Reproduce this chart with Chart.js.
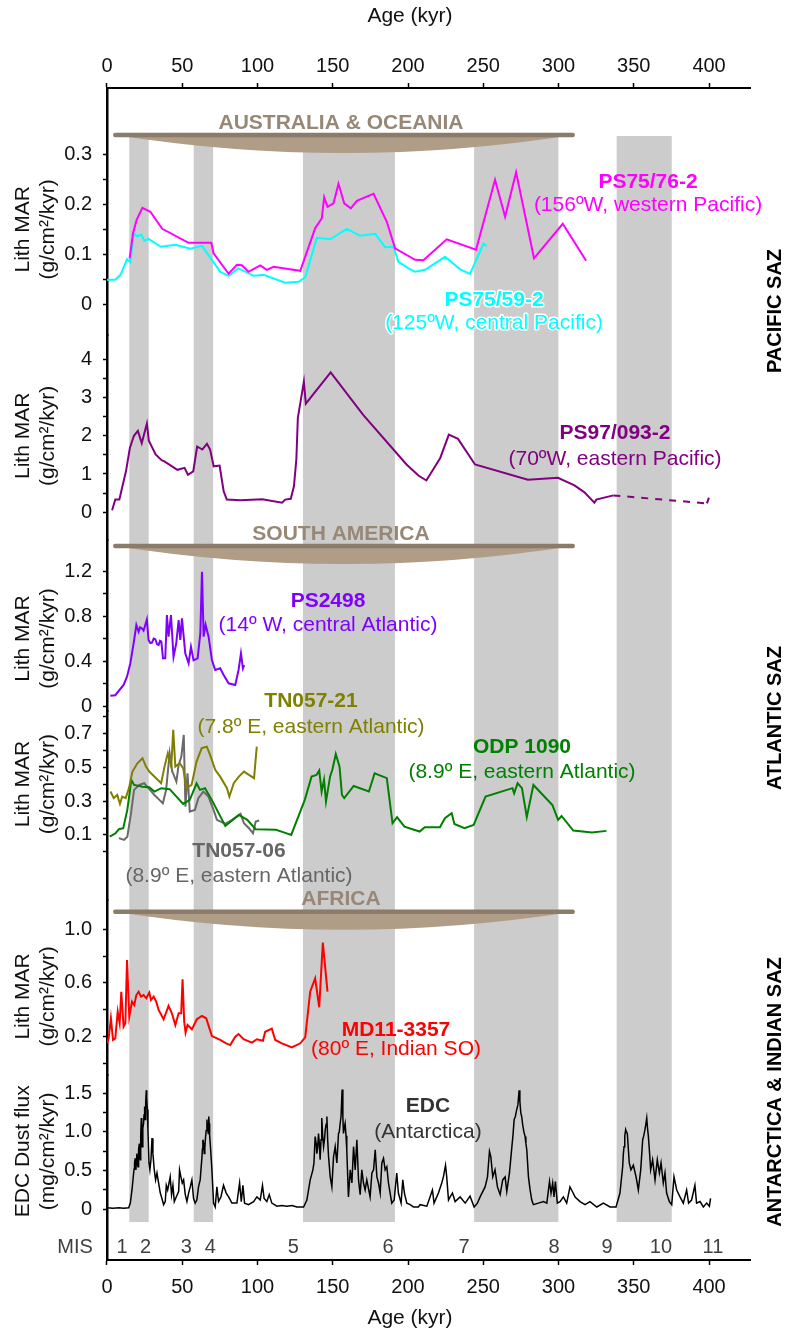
<!DOCTYPE html>
<html>
<head>
<meta charset="utf-8">
<script src="https://cdn.jsdelivr.net/npm/chart.js@4/dist/chart.umd.min.js"></script>
<style>
  html, body { margin: 0; padding: 0; background: #fff; }
  #wrap { width: 788px; height: 1338px; }
</style>
</head>
<body>
<div id="wrap"><canvas id="chart" width="788" height="1338"></canvas></div>
<script>
const FONT = '"Liberation Sans", Arial, sans-serif';

// ---- data: [age (kyr), value] ----
const ps7576 = [[15.0,0.092],[17.3,0.142],[19.7,0.169],[23.5,0.193],[28.8,0.185],[36.7,0.151],[54.2,0.123],[69.3,0.123],[70.8,0.102],[80.8,0.061],[86.3,0.079],[89.6,0.078],[94.0,0.065],[101.8,0.078],[106.2,0.069],[110.6,0.075],[128.4,0.067],[138.3,0.152],[142.7,0.172],[144.3,0.214],[146.5,0.195],[150.5,0.202],[153.8,0.241],[157.6,0.202],[162.0,0.192],[166.0,0.207],[177.1,0.221],[185.9,0.165],[191.4,0.112],[204.7,0.089],[210.2,0.088],[225.7,0.130],[245.2,0.109],[257.8,0.249],[264.5,0.175],[271.8,0.264],[283.7,0.092],[302.8,0.161],[318.3,0.087]];

const ps7559 = [[0,0.049],[5.5,0.049],[9.0,0.059],[13.3,0.090],[15.5,0.084],[17.7,0.142],[20.1,0.136],[22.9,0.139],[24.8,0.127],[27.6,0.131],[35.8,0.115],[45.4,0.119],[55.5,0.111],[63.1,0.117],[69.7,0.089],[75.2,0.065],[80.8,0.057],[87.4,0.072],[97.4,0.057],[104.0,0.059],[118.4,0.043],[127.2,0.045],[131.7,0.054],[139.4,0.133],[148.3,0.130],[159.3,0.151],[168.2,0.137],[178.2,0.141],[184.8,0.114],[190.3,0.115],[193.6,0.085],[200.3,0.072],[204.7,0.065],[211.3,0.069],[224.6,0.095],[234.6,0.070],[241.2,0.061],[250.1,0.121],[252.3,0.117]];

const ps97 = [[3.4,0.05],[5.5,0.33],[8.2,0.33],[12.6,1.07],[15.2,1.68],[17.9,2.0],[20.5,2.13],[23.1,1.81],[26.5,2.32],[27.8,1.87],[32.3,1.51],[36.3,1.36],[38.1,1.33],[46.8,1.11],[51.5,1.16],[53.8,0.98],[57.3,1.07],[59.9,1.72],[63.3,1.64],[66.4,1.79],[68.5,1.64],[70.9,1.20],[74.8,1.22],[77.5,0.55],[79.6,0.33],[88.8,0.31],[103.2,0.34],[116.3,0.25],[118.4,0.33],[122.1,0.35],[124.2,0.68],[125.8,1.38],[126.8,2.47],[130.8,3.42],[132.1,2.84],[148.6,3.66],[170.2,2.55],[199.0,1.25],[206.9,0.96],[212.2,0.83],[221.4,1.42],[227.1,2.03],[233.2,1.92],[244.5,1.25],[279.6,0.85],[299.6,0.90],[310.6,0.70],[317.2,0.52],[323.8,0.25],[325.1,0.33],[336.4,0.44],[398.6,0.23],[399.9,0.38]];

const ps2498 = [[2.2,0.092],[5.5,0.096],[11.0,0.187],[13.3,0.26],[15.5,0.38],[17.7,0.557],[19.5,0.72],[21.0,0.66],[22.0,0.70],[23.2,0.69],[24.3,0.67],[25.4,0.72],[26.5,0.77],[27.6,0.587],[28.8,0.56],[29.9,0.563],[31.0,0.60],[32.1,0.593],[33.2,0.55],[34.3,0.542],[35.2,0.58],[36.1,0.572],[37.2,0.424],[38.7,0.424],[39.8,0.809],[40.9,0.616],[42.5,0.809],[44.2,0.438],[46.0,0.557],[47.6,0.764],[48.7,0.587],[49.8,0.78],[52.0,0.468],[54.2,0.38],[55.8,0.527],[57.5,0.406],[60.2,0.424],[62.0,0.646],[63.1,1.194],[64.2,0.616],[65.5,0.723],[67.5,0.616],[69.7,0.409],[71.9,0.32],[75.2,0.335],[77.5,0.276],[80.8,0.202],[85.2,0.187],[87.4,0.32],[89.0,0.468],[90.3,0.335],[91.2,0.364]];

const tn05721 = [[2.3,0.356],[4.5,0.317],[6.8,0.336],[8.6,0.283],[10.1,0.326],[12.4,0.317],[14.6,0.376],[16.9,0.474],[20.2,0.523],[23.6,0.553],[25.9,0.503],[28.1,0.474],[32.6,0.435],[36.0,0.405],[38.2,0.503],[40.4,0.582],[42.7,0.503],[44.0,0.72],[45.4,0.503],[48.3,0.523],[50.6,0.494],[52.8,0.376],[56.2,0.395],[59.5,0.533],[62.9,0.612],[66.3,0.621],[68.5,0.572],[71.9,0.484],[75.2,0.444],[79.7,0.376],[81.3,0.326],[84.2,0.405],[87.6,0.444],[91.0,0.474],[94.3,0.454],[97.7,0.435],[99.5,0.621]];

const tn05706 = [[7.9,0.081],[11.3,0.071],[13.5,0.09],[15.8,0.218],[18.0,0.366],[21.4,0.395],[24.7,0.405],[28.1,0.37],[31.5,0.336],[34.8,0.307],[37.1,0.287],[39.3,0.366],[41.6,0.582],[43.4,0.474],[46.1,0.415],[47.6,0.513],[49.4,0.562],[51.0,0.69],[52.1,0.267],[53.5,0.464],[55.0,0.238],[58.4,0.248],[60.7,0.317],[64.0,0.356],[67.4,0.326],[70.8,0.248],[73.0,0.189],[78.6,0.165],[83.1,0.189],[88.7,0.224],[91.0,0.169],[94.3,0.14],[97.0,0.11],[98.8,0.179],[101.1,0.185]];

const odp1090 = [[1.8,0.09],[5.7,0.11],[7.9,0.134],[10.8,0.14],[13.5,0.248],[16.2,0.425],[18.0,0.395],[23.6,0.385],[28.1,0.382],[31.5,0.356],[36.0,0.376],[41.6,0.37],[50.6,0.283],[55.0,0.307],[59.5,0.405],[61.8,0.366],[65.1,0.376],[69.6,0.307],[78.6,0.153],[87.6,0.218],[93.2,0.189],[98.8,0.134],[112.3,0.13],[117.9,0.114],[122.4,0.10],[131.4,0.307],[135.9,0.444],[139.2,0.454],[141.0,0.48],[142.6,0.356],[144.2,0.425],[145.5,0.297],[148.2,0.444],[149.8,0.488],[152.0,0.578],[154.5,0.503],[156.1,0.336],[157.6,0.317],[163.9,0.389],[174.0,0.356],[177.8,0.464],[185.9,0.435],[189.7,0.169],[192.7,0.205],[197.6,0.149],[207.7,0.12],[211.1,0.146],[221.2,0.146],[224.5,0.199],[229.0,0.228],[230.8,0.165],[237.5,0.14],[243.6,0.159],[251.5,0.326],[269.4,0.376],[270.5,0.346],[272.8,0.405],[275.7,0.376],[278.9,0.205],[283.3,0.395],[295.9,0.277],[299.7,0.189],[302.0,0.212],[309.8,0.126],[322.2,0.114],[331.8,0.124]];

const md113357 = [[0,0.151],[1.1,0.188],[2.6,0.337],[4.0,0.176],[5.5,0.188],[7.1,0.386],[8.4,0.30],[9.5,0.535],[11.0,0.275],[12.2,0.30],[13.3,0.771],[14.8,0.349],[16.6,0.461],[18.1,0.436],[19.5,0.51],[21.0,0.535],[22.6,0.498],[24.3,0.51],[26.1,0.486],[28.1,0.528],[29.2,0.473],[31.0,0.498],[32.7,0.461],[34.3,0.399],[37.6,0.33],[40.9,0.429],[43.1,0.374],[45.4,0.287],[47.6,0.374],[49.3,0.374],[50.2,0.627],[51.3,0.312],[52.2,0.23],[53.5,0.287],[56.4,0.255],[59.7,0.33],[63.1,0.354],[65.9,0.337],[69.7,0.205],[75.2,0.176],[79.2,0.151],[81.9,0.138],[85.2,0.20],[87.4,0.22],[90.7,0.181],[96.3,0.156],[99.6,0.181],[103.6,0.17],[105.1,0.237],[109.5,0.26],[111.8,0.176],[116.2,0.151],[122.8,0.121],[128.4,0.151],[131.7,0.196],[135.0,0.535],[138.3,0.635],[141.0,0.419],[143.4,0.90],[146.5,0.535]];

const edcDust = [[0,0.02],[4,0.015],[8,0.02],[11,0.015],[14.4,0.02],[15.5,0.08],[16.6,0.25],[17.7,0.47],[18.0,0.52],[18.3,0.6],[18.7,0.66],[19.2,0.51],[19.9,0.72],[20.2,0.6],[20.6,0.55],[21.0,0.78],[21.5,0.85],[21.8,0.7],[22.1,0.64],[22.4,0.95],[22.8,1.18],[23.1,0.9],[23.4,0.81],[23.8,1.05],[24.3,1.11],[24.6,1.22],[25.0,1.33],[25.4,1.16],[25.7,1.38],[26.1,1.54],[26.4,1.45],[26.8,1.29],[27.2,1.03],[27.9,0.6],[28.5,0.51],[29.2,0.64],[29.9,0.92],[30.5,0.72],[31.4,0.51],[32.3,0.38],[33.2,0.47],[34.3,0.34],[35.4,0.21],[36.5,0.14],[37.6,0.06],[38.7,0.1],[39.4,0.31],[40.3,0.25],[41.2,0.34],[42.0,0.42],[42.9,0.19],[43.8,0.31],[44.7,0.1],[46.0,0.16],[47.6,0.23],[48.2,0.51],[49.1,0.42],[50.0,0.34],[50.9,0.38],[52.0,0.19],[53.1,0.1],[54.2,0.21],[55.3,0.29],[56.4,0.38],[57.5,0.14],[58.6,0.08],[59.7,0.12],[60.8,0.29],[61.9,0.38],[63.1,0.68],[63.4,0.78],[63.7,0.9],[64.2,0.85],[64.6,0.72],[65.0,0.8],[65.5,0.94],[65.9,1.02],[66.4,1.16],[66.8,1.05],[67.3,0.98],[67.6,1.2],[67.9,1.11],[68.2,0.95],[68.6,0.85],[69.7,0.51],[70.8,0.08],[71.9,0.03],[73.0,0.29],[74.1,0.1],[75.7,0.16],[77.4,0.31],[79.2,0.21],[80.8,0.16],[83.0,0.08],[86.3,0.08],[88.1,0.34],[89.2,0.1],[90.3,0.31],[91.4,0.08],[94.0,0.06],[97.4,0.1],[99.6,0.16],[101.8,0.12],[103.3,0.31],[104.4,0.14],[106.2,0.1],[107.8,0.19],[109.5,0.08],[112.9,0.04],[116,0.05],[119.5,0.04],[123,0.05],[126.1,0.03],[130.6,0.03],[132.8,0.12],[135.0,0.38],[136.8,0.51],[137.5,0.6],[138.3,0.94],[139.0,0.85],[139.4,0.72],[140.0,0.8],[140.5,0.98],[141.1,0.85],[141.6,0.64],[142.2,0.9],[142.7,1.18],[143.3,0.95],[143.9,0.81],[144.5,0.9],[145.0,1.03],[145.6,1.1],[146.1,1.2],[146.6,0.9],[147.2,0.68],[148.3,0.42],[149.4,0.29],[150.5,0.68],[151.6,0.81],[152.7,0.6],[153.3,0.8],[153.8,0.98],[154.3,1.0],[154.9,1.11],[155.5,1.2],[156.2,1.55],[156.7,1.2],[157.1,0.98],[157.6,1.05],[158.2,1.11],[158.8,0.95],[159.3,0.77],[160.4,0.16],[161.6,0.51],[162.7,0.34],[163.8,0.81],[164.9,0.51],[166.0,0.9],[167.1,0.38],[168.2,0.19],[169.3,0.51],[170.4,0.34],[171.5,0.25],[172.6,0.38],[174.8,0.16],[176.0,0.47],[177.1,0.51],[178.2,0.77],[179.3,0.42],[180.4,0.34],[181.5,0.21],[182.6,0.6],[183.7,0.66],[184.8,0.51],[185.9,0.55],[187.0,0.34],[188.1,0.21],[189.2,0.08],[190.8,0.12],[192.5,0.47],[193.6,0.21],[195.4,0.08],[196.5,0.38],[197.6,0.21],[199.2,0.08],[201.4,0.06],[203.6,0.03],[206.9,0.03],[208.0,0.06],[212.5,0.04],[216.2,0.25],[217.3,0.08],[220.2,0.21],[222.4,0.34],[223.5,0.42],[224.9,0.57],[225.7,0.42],[226.9,0.12],[228.0,0.16],[229.5,0.21],[231.3,0.1],[234.6,0.16],[238.0,0.08],[241.2,0.17],[243.9,0.03],[246.1,0.08],[247.9,0.16],[251.2,0.29],[252.8,0.42],[254.1,0.75],[255.0,0.68],[256.3,0.42],[257.8,0.51],[259.4,0.29],[261.2,0.19],[262.9,0.38],[264.5,0.42],[265.6,0.23],[267.4,0.47],[269.0,0.81],[269.7,0.95],[270.5,1.16],[271.3,1.2],[272.2,1.29],[273.0,1.35],[273.8,1.54],[274.3,1.4],[274.9,1.25],[275.5,1.2],[276.2,1.09],[277.0,1.0],[277.8,0.94],[278.3,0.85],[278.9,0.77],[280.0,0.42],[281.1,0.25],[282.2,0.12],[283.3,0.06],[286.6,0.08],[290.0,0.1],[292.2,0.08],[294.0,0.36],[295.0,0.21],[296.1,0.34],[297.0,0.16],[297.9,0.36],[299.2,0.08],[301.0,0.1],[303.2,0.16],[305.4,0.08],[307.6,0.29],[309.2,0.23],[311.0,0.16],[314.3,0.1],[317.6,0.06],[320.9,0.1],[325.4,0.03],[329.8,0.08],[334.2,0.03],[338.2,0.03],[340.8,0.21],[342.6,0.55],[343.0,0.7],[343.5,0.81],[344.0,0.95],[344.6,1.03],[345.1,1.0],[345.7,0.98],[346.3,0.8],[347.0,0.6],[348.1,0.51],[349.7,0.57],[351.5,0.42],[353.0,0.25],[354.6,0.51],[355.9,0.9],[356.6,0.95],[357.4,1.03],[358.0,1.1],[358.6,1.18],[359.1,1.05],[359.7,0.94],[360.4,0.75],[361.2,0.51],[362.5,0.64],[364.1,0.38],[365.6,0.64],[367.0,0.47],[368.1,0.6],[369.6,0.34],[370.7,0.47],[371.8,0.21],[373.6,0.1],[375.2,0.06],[376.7,0.42],[378.5,0.25],[380.7,0.16],[382.9,0.08],[385.1,0.25],[386.4,0.08],[388.4,0.12],[390.6,0.31],[391.7,0.08],[394.0,0.1],[396.2,0.03],[398.4,0.08],[400.2,0.04],[401.0,0.14]];

// glacial stages (grey bands) and MIS labels
const glacialBands = [[14.8, 27.7], [57.6, 70.5], [130.2, 191.3], [243.9, 299.9], [338.6, 375.2]];
const misNames = ['1', '2', '3', '4', '5', '6', '7', '8', '9', '10', '11'];
const misAges = [10, 25.6, 52.7, 68.6, 123.7, 186.8, 237.2, 297, 332.2, 368, 402.6];

// tick values and labels
const ageTicks = [0, 50, 100, 150, 200, 250, 300, 350, 400];
const pacTicks = [0, 0.05, 0.1, 0.15, 0.2, 0.25, 0.3];
const pacLabels = ['0', '', '0.1', '', '0.2', '', '0.3'];
const ps97Ticks = [0, 0.5, 1, 1.5, 2, 2.5, 3, 3.5, 4];
const ps97Labels = ['0', '', '1', '', '2', '', '3', '', '4'];
const ps2498Ticks = [0, 0.2, 0.4, 0.6, 0.8, 1.0, 1.2];
const ps2498Labels = ['0', '', '0.4', '', '0.8', '', '1.2'];
const atlTicks = [0, 0.1, 0.2, 0.3, 0.4, 0.5, 0.6, 0.7, 0.8];
const atlLabels = ['', '0.1', '', '0.3', '', '0.5', '', '0.7', ''];
const mdTicks = [0, 0.2, 0.4, 0.6, 0.8, 1.0];
const mdLabels = ['', '0.2', '', '0.6', '', '1.0'];
const edcTicks = [0, 0.25, 0.5, 0.75, 1.0, 1.25, 1.5];
const edcLabels = ['0', '', '0.5', '', '1.0', '', '1.5'];

const toXY = arr => arr.map(([x, y]) => ({ x, y }));

// one stacked left axis per panel
const panelAxis = (min, max, stackWeight, order, ticks, labels) => ({
    type: 'linear',
    position: 'left',
    stack: 'panels',
    stackWeight: stackWeight,
    weight: order,
    min: min,
    max: max,
    afterFit: s => { s.width = 107; },
    afterBuildTicks: s => { s.ticks = ticks.map(v => ({ value: v })); },
    ticks: {
        autoSkip: false,
        padding: 11,
        color: '#111',
        font: { size: 20, family: FONT },
        callback: (v, i) => labels[i]
    },
    grid: { drawOnChartArea: false, tickLength: 4, tickColor: '#000', tickWidth: 1.5 },
    border: { color: '#000', width: 2.5 }
});

const ageAxis = (position, height) => ({
    type: 'linear',
    position: position,
    min: 0,
    max: 427.2,
    afterFit: s => { s.height = height; },
    afterBuildTicks: s => { s.ticks = ageTicks.map(v => ({ value: v })); },
    ticks: { autoSkip: false, maxRotation: 0, padding: position === 'top' ? 5 : 10, color: '#111', font: { size: 20, family: FONT } },
    grid: { drawOnChartArea: false, tickLength: 5, tickColor: '#000', tickWidth: 1.5 },
    border: { color: '#000', width: 2 }
});

const BAND_TOP = 136, BAND_BOTTOM = 1222;
const LENS_FROM = 5.5, LENS_TO = 309.4;

const continents = [
    { name: 'AUSTRALIA & OCEANIA', y: 135 },
    { name: 'SOUTH AMERICA', y: 546 },
    { name: 'AFRICA', y: 911.7 }
];

const seriesLabels = [
    { t: 'PS75/76-2', x: 648, y: 182, c: '#ff00ff', b: true },
    { t: '(156ºW, western Pacific)', x: 648, y: 205, c: '#ff00ff' },
    { t: 'PS75/59-2', x: 494, y: 300, c: '#00ffff', b: true, halo: true },
    { t: '(125ºW, central Pacific)', x: 494, y: 323, c: '#00ffff', halo: true },
    { t: 'PS97/093-2', x: 615, y: 433, c: '#800080', b: true },
    { t: '(70ºW, eastern Pacific)', x: 615, y: 459, c: '#800080' },
    { t: 'PS2498', x: 328, y: 601, c: '#7f00ff', b: true },
    { t: '(14º W, central Atlantic)', x: 328, y: 625, c: '#7f00ff' },
    { t: 'TN057-21', x: 311, y: 701, c: '#808000', b: true },
    { t: '(7.8º E, eastern Atlantic)', x: 311, y: 727, c: '#808000' },
    { t: 'ODP 1090', x: 522, y: 747, c: '#008000', b: true },
    { t: '(8.9º E, eastern Atlantic)', x: 522, y: 772, c: '#008000' },
    { t: 'TN057-06', x: 239, y: 851, c: '#666666', b: true },
    { t: '(8.9º E, eastern Atlantic)', x: 239, y: 876, c: '#666666' },
    { t: 'MD11-3357', x: 396, y: 1030, c: '#ff0000', b: true },
    { t: '(80º E, Indian SO)', x: 396, y: 1049, c: '#ff0000' },
    { t: 'EDC', x: 428, y: 1106, c: '#333333', b: true },
    { t: '(Antarctica)', x: 428, y: 1132, c: '#333333' }
];

const axisTitles = [
    ['yPac', 0, 0.3, ['Lith MAR', '(g/cm²/kyr)']],
    ['yPs97', 0, 4, ['Lith MAR', '(g/cm²/kyr)']],
    ['yPs2498', 0, 1.2, ['Lith MAR', '(g/cm²/kyr)']],
    ['yAtl', 0, 0.8, ['Lith MAR', '(g/cm²/kyr)']],
    ['yMd', 0, 1.0, ['Lith MAR', '(g/cm²/kyr)']],
    ['yEdc', 0, 1.5, ['EDC Dust flux', '(mg/cm²/kyr)']]
];

const regionLabels = [
    { t: 'PACIFIC SAZ', y: 311 },
    { t: 'ATLANTIC SAZ', y: 718 },
    { t: 'ANTARCTICA & INDIAN SAZ', y: 1092 }
];

// grey bands, lenses, text annotations
const decorations = {
    id: 'decorations',
    beforeDatasetsDraw(chart) {
        const { ctx, scales: { x } } = chart;
        ctx.save();
        ctx.fillStyle = '#cccccc';
        glacialBands.forEach(([a, b]) => {
            const x0 = x.getPixelForValue(a), x1 = x.getPixelForValue(b);
            ctx.fillRect(x0, BAND_TOP, x1 - x0, BAND_BOTTOM - BAND_TOP);
        });
        ctx.restore();
    },
    afterDatasetsDraw(chart) {
        const { ctx, scales } = chart;
        const x = scales.x;
        ctx.save();

        // continent lenses
        const lx0 = x.getPixelForValue(LENS_FROM), lx1 = x.getPixelForValue(LENS_TO);
        continents.forEach(c => {
            ctx.beginPath();
            ctx.moveTo(lx0, c.y);
            ctx.quadraticCurveTo((lx0 + lx1) / 2, c.y + 36, lx1, c.y);
            ctx.closePath();
            ctx.fillStyle = '#b09d88';
            ctx.fill();
            ctx.beginPath();
            ctx.moveTo(lx0, c.y);
            ctx.lineTo(lx1, c.y);
            ctx.lineWidth = 4.5;
            ctx.lineCap = 'round';
            ctx.strokeStyle = '#8b7b6a';
            ctx.stroke();
            ctx.font = 'bold 21px ' + FONT;
            ctx.textAlign = 'center';
            ctx.textBaseline = 'alphabetic';
            ctx.fillStyle = '#978775';
            ctx.fillText(c.name, (lx0 + lx1) / 2 - 3, c.y - 6.5);
        });

        // series labels
        ctx.textAlign = 'center';
        ctx.textBaseline = 'middle';
        seriesLabels.forEach(l => {
            ctx.font = (l.b ? 'bold ' : '') + '21px ' + FONT;
            if (l.halo) {
                ctx.lineWidth = 3;
                ctx.lineJoin = 'round';
                ctx.strokeStyle = '#ffffff';
                ctx.strokeText(l.t, l.x, l.y);
            }
            ctx.fillStyle = l.c;
            ctx.fillText(l.t, l.x, l.y);
        });

        // MIS row
        ctx.font = '20px ' + FONT;
        ctx.fillStyle = '#404040';
        ctx.fillText('MIS', 75, 1247);
        misNames.forEach((m, i) => ctx.fillText(m, x.getPixelForValue(misAges[i]), 1247));

        // age axis titles, top and bottom
        ctx.font = '21px ' + FONT;
        ctx.fillStyle = '#111';
        ctx.fillText('Age (kyr)', 410, 16);
        ctx.fillText('Age (kyr)', 410, 1318);

        // y axis titles (two rotated lines per panel)
        axisTitles.forEach(([id, lo, hi, lines]) => {
            const s = scales[id];
            const yc = (s.getPixelForValue(lo) + s.getPixelForValue(hi)) / 2;
            [23, 48].forEach((xc, i) => {
                ctx.save();
                ctx.translate(xc, yc);
                ctx.rotate(-Math.PI / 2);
                ctx.fillText(lines[i], 0, 0);
                ctx.restore();
            });
        });

        // region labels on the right
        ctx.font = 'bold 20px ' + FONT;
        ctx.fillStyle = '#000';
        regionLabels.forEach(r => {
            ctx.save();
            ctx.translate(775, r.y);
            ctx.rotate(-Math.PI / 2);
            ctx.fillText(r.t, 0, 0);
            ctx.restore();
        });
        ctx.restore();
    }
};

const line = (data, color, yAxisID, width) => ({
    data: toXY(data),
    xAxisID: 'x',
    yAxisID: yAxisID,
    borderColor: color,
    borderWidth: width || 2,
    pointRadius: 0,
    tension: 0,
    fill: false
});

const ps97Line = line(ps97, '#800080', 'yPs97');
ps97Line.segment = {
    borderDash: c => (c.p0.parsed.x >= 336 && c.p1.parsed.x < 399.5) ? [7, 7] : undefined
};

new Chart(document.getElementById('chart'), {
    type: 'line',
    data: {
        datasets: [
            line(ps7576, '#ff00ff', 'yPac'),
            line(ps7559, '#00ffff', 'yPac'),
            ps97Line,
            line(ps2498, '#7f00ff', 'yPs2498'),
            line(tn05721, '#808000', 'yAtl'),
            line(odp1090, '#008000', 'yAtl'),
            line(tn05706, '#6a6a6a', 'yAtl'),
            line(md113357, '#ff0000', 'yMd'),
            line(edcDust, '#000000', 'yEdc', 1.5)
        ]
    },
    options: {
        responsive: false,
        animation: false,
        events: [],
        layout: { padding: { left: 0, right: 38, top: 0, bottom: 0 } },
        plugins: { legend: { display: false }, tooltip: { enabled: false } },
        scales: {
            x: ageAxis('bottom', 78),
            xTop: ageAxis('top', 88),
            yPac: panelAxis(-0.0614, 0.4326, 247, 6, pacTicks, pacLabels),
            yPs97: panelAxis(-0.728, 4.639, 205, 5, ps97Ticks, ps97Labels),
            yPs2498: panelAxis(-0.0444, 1.4756, 171, 4, ps2498Ticks, ps2498Labels),
            yAtl: panelAxis(-0.2838, 0.8313, 189, 3, atlTicks, atlLabels),
            yMd: panelAxis(-0.0848, 1.2173, 175, 2, mdTicks, mdLabels),
            yEdc: panelAxis(-0.6556, 1.7367, 185, 1, edcTicks, edcLabels)
        }
    },
    plugins: [decorations]
});
</script>
</body>
</html>
